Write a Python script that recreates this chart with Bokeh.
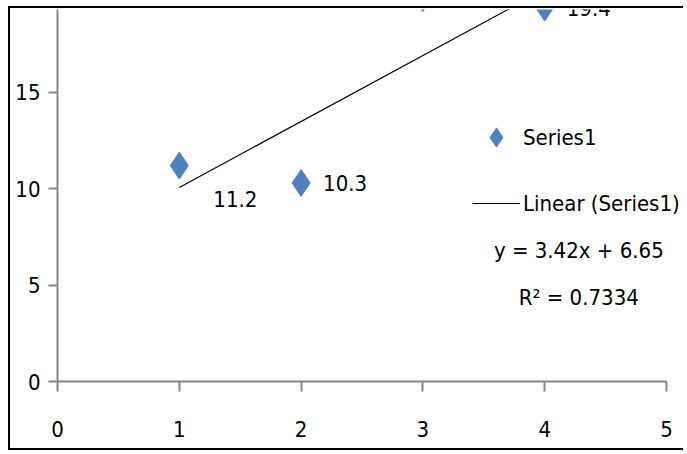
import numpy as np
from bokeh.plotting import figure
from bokeh.models import (Range1d, FixedTicker, Legend, LegendItem, Label,
                          ColumnDataSource)
from bokeh.core.properties import value
from bokeh.embed import file_html
from bokeh.resources import INLINE

# ---- data ----
x_vals = [1, 2, 3, 4]
y_vals = [11.2, 10.3, 19.9, 19.4]
point_labels = ["11.2", "10.3", "19.9", "19.4"]
x_ticks = [0, 1, 2, 3, 4, 5]
y_ticks = [0, 5, 10, 15, 20]
x_axis_bounds = (0, 5)
series_name = "Series1"

# label placement (style, screen pixels)
label_dx = [34, 22, 22, 22]
label_dy = [33, 0, 0, 0]

FONT = "DejaVu Sans Condensed"
FS = "22px"
BLUE = "#4F81BD"
AXIS = "#868686"

# linear fit
slope, intercept = np.polyfit(x_vals, y_vals, 1)
yv = np.array(y_vals)
pred = slope * np.array(x_vals) + intercept
r2 = 1 - ((yv - pred) ** 2).sum() / ((yv - yv.mean()) ** 2).sum()
fit_x = [min(x_vals), max(x_vals)]
fit_y = [slope * v + intercept for v in fit_x]

p = figure(width=675, height=444, x_range=Range1d(0, 5.156), y_range=Range1d(0, 19.3),
           output_backend="svg", toolbar_location=None,
           min_border_left=47, min_border_right=0, min_border_top=1, min_border_bottom=71)
# the black frame of the pictured image (left, top and bottom edges)
p.styles = {"margin-left": "8px", "margin-top": "6px",
            "border-left": "2px solid black", "border-top": "2px solid black",
            "border-bottom": "2px solid black"}
p.outline_line_color = None
p.xgrid.visible = False
p.ygrid.visible = False
p.background_fill_color = "white"
p.border_fill_color = "white"

for ax, ticks in ((p.xaxis, x_ticks), (p.yaxis, y_ticks)):
    ax.ticker = FixedTicker(ticks=ticks)
    ax.axis_line_color = AXIS
    ax.axis_line_width = 2
    ax.major_tick_line_color = AXIS
    ax.major_tick_line_width = 2
    ax.major_tick_in = 0
    ax.minor_tick_line_color = None
    ax.major_label_text_font = FONT
    ax.major_label_text_font_size = FS
    ax.major_label_text_color = "black"
p.xaxis.bounds = x_axis_bounds
p.xaxis.major_tick_out = 10
p.yaxis.major_tick_out = 9
p.xaxis.major_label_standoff = 29
p.yaxis.major_label_standoff = 8

src = ColumnDataSource(dict(x=x_vals, y=y_vals, lab=point_labels, dx=label_dx, dy=label_dy))

line_r = p.line(fit_x, fit_y, line_color="black", line_width=1.2)
pts_r = p.scatter("x", "y", source=src, marker="diamond", size=27,
                  fill_color=BLUE, line_color=BLUE)
p.text("x", "y", text="lab", source=src, x_offset="dx", y_offset="dy",
       text_font=value(FONT), text_font_size=FS, text_color="black",
       text_align="left", text_baseline="middle")

legend = Legend(items=[LegendItem(label=series_name, renderers=[pts_r]),
                       LegendItem(label=f"Linear ({series_name})", renderers=[line_r])],
                location=(415, 153), glyph_width=48, glyph_height=50, spacing=16,
                padding=0, margin=0, border_line_color=None, background_fill_alpha=0,
                label_text_font=FONT, label_text_font_size=FS, label_text_color="black",
                label_standoff=3)
p.add_layout(legend)

p.add_layout(Label(x=4.28, y=6.8, text=f"y = {slope:.2f}x + {intercept:.2f}",
                   text_align="center", text_baseline="middle",
                   text_font=FONT, text_font_size=FS, text_color="black"))
p.add_layout(Label(x=4.28, y=4.36, text=f"R\u00b2 = {r2:.4f}",
                   text_align="center", text_baseline="middle",
                   text_font=FONT, text_font_size=FS, text_color="black"))

open("out.html", "w").write(file_html(p, INLINE))
